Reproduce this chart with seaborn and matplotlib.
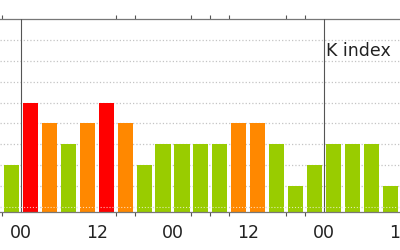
import matplotlib
matplotlib.use("Agg")
import matplotlib.pyplot as plt
import seaborn as sns
import pandas as pd

# Data (3-hour K index intervals; hour = start of interval relative to first 00)
hours = [-3, 0, 3, 6, 9, 12, 15, 18, 21, 24, 27, 30, 33, 36, 39, 42, 45, 48, 51, 54, 57]
kp = [2, 5, 4, 3, 4, 5, 4, 2, 3, 3, 3, 3, 4, 4, 3, 1, 2, 3, 3, 3, 1]
tick_hours = [0, 12, 24, 36, 48, 60]
tick_labels = ["00", "12", "00", "12", "00", "12"]
minor_hours = [-3, 12, 15, 18, 27, 30, 33, 42, 45]
day_lines = [0, 48]
title = "K index"


def level(k):
    return "storm" if k >= 5 else ("active" if k == 4 else "quiet")


df = pd.DataFrame({
    "hour": [h + 1.5 for h in hours],
    "kp": kp,
    "level": [level(k) for k in kp],
})
palette = {"quiet": "#99cc00", "active": "#ff8800", "storm": "#ff0000"}

sns.set_theme(style="white")
plt.rcParams["font.family"] = ["DejaVu Sans"]

fig = plt.figure(figsize=(4, 2.5), dpi=100)
ax = fig.add_axes([0, 0.152, 1, 0.772])

sns.barplot(data=df, x="hour", y="kp", hue="level", palette=palette,
            native_scale=True, dodge=False, width=0.8, legend=False,
            saturation=1, ax=ax, zorder=2, linewidth=0)

ymin, ymax = -0.24, 9
ax.set_xlim(-3.33, 60.04)
ax.set_ylim(ymin, ymax)

# extend bars down to the axis line
for p in ax.patches:
    y0 = p.get_y()
    p.set_y(ymin)
    p.set_height(p.get_height() + (y0 - ymin))

ax.set_yticks(range(0, 9))
ax.yaxis.grid(True, color="#c4c4c4", ls=":", lw=0.9)
ax.set_axisbelow(True)
ax.tick_params(axis="y", left=False, right=False, labelleft=False)
ax.set_xlabel("")
ax.set_ylabel("")

ax.set_xticks(tick_hours, tick_labels)
ax.set_xticks(minor_hours, minor=True)
ax.tick_params(axis="x", which="major", length=0, pad=9, labelsize=12.5,
               colors="#222222")
ax.tick_params(axis="x", which="minor", length=3, width=0.8, color="#555555",
               top=True, bottom=True, direction="out")

for s in ("left", "right"):
    ax.spines[s].set_visible(False)
for s in ("top", "bottom"):
    ax.spines[s].set_color("#777777")
    ax.spines[s].set_linewidth(0.9)

for h in day_lines:
    ax.axvline(h, color="#555555", lw=0.8, zorder=3)

ax.axhline(0, color="white", ls=":", lw=0.8, alpha=0.7, zorder=3)

ax.text(48.3, 7.48, title, ha="left", va="center", fontsize=12.5,
        color="#222222")

fig.savefig("out.png", dpi=100)
